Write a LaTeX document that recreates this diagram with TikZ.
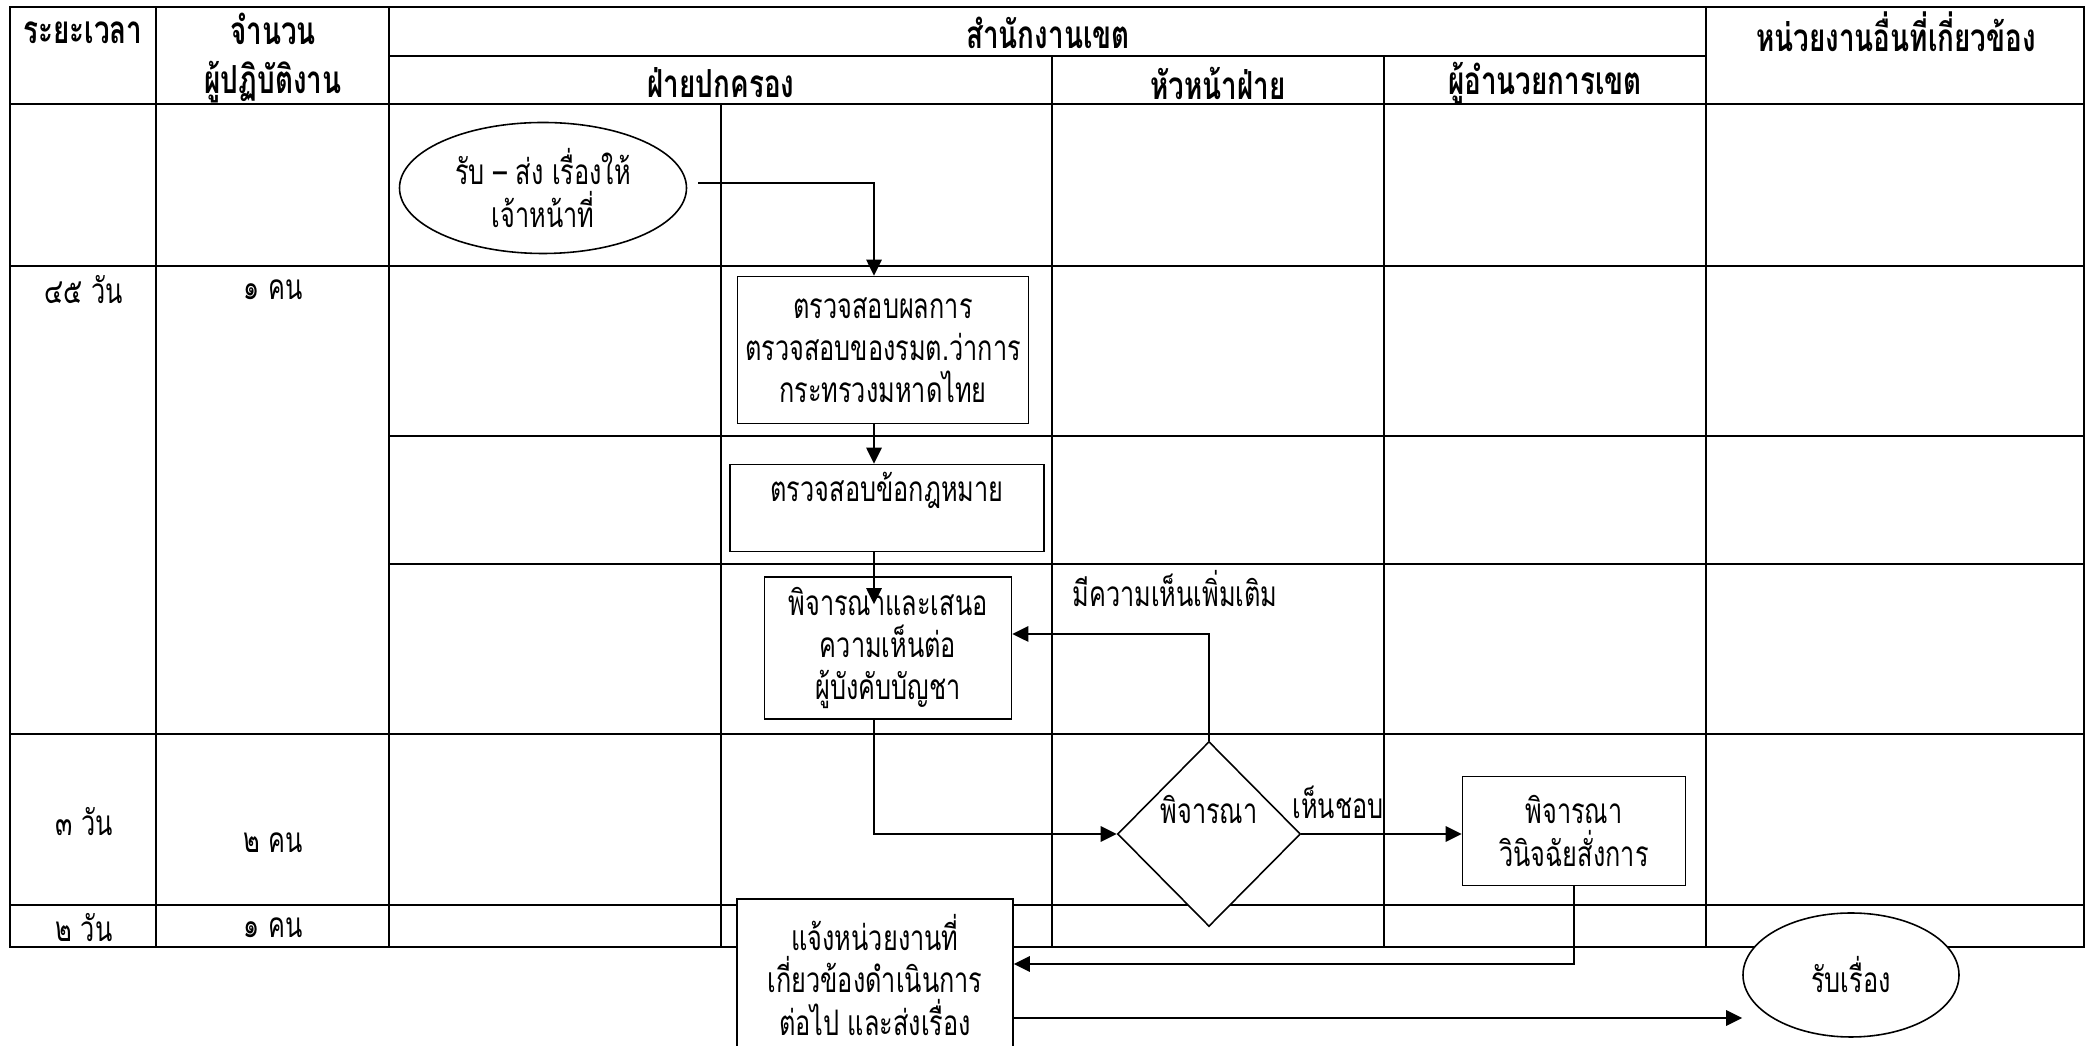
\documentclass[tikz,border=0pt]{standalone}
\usepackage{fontspec}
\setmainfont{Loma}[Script=Thai,FakeStretch=0.72]
\usepackage{tikz}
\usetikzlibrary{arrows.meta,positioning,shapes.geometric,calc}
\lineskiplimit=-20pt

\begin{document}
\begin{tikzpicture}[
  font=\fontsize{10}{12}\selectfont,
  tblline/.style={line width=0.75pt},
  head/.style={font=\fontsize{11}{14}\selectfont\bfseries,align=center},
  cell/.style={align=center},
  procbox/.style={draw,fill=white,line width=0.45pt,align=center,inner sep=2pt},
  termbox/.style={ellipse,draw,fill=white,line width=0.45pt,align=center,inner sep=0pt},
  decbox/.style={diamond,draw,fill=white,line width=0.45pt,inner sep=0pt},
  link/.style={-{Triangle[length=1.6mm,width=1.5mm]},line width=0.8pt}
]
\useasboundingbox (0,0) rectangle (20.89,-10.46);
% table grid
\draw[tblline] (0.10,-0.07) rectangle (20.84,-9.47);
\draw[tblline] (1.56,-0.07) -- (1.56,-9.47)
  (3.89,-0.07) -- (3.89,-9.47)
  (17.06,-0.07) -- (17.06,-9.47)
  (7.21,-1.04) -- (7.21,-9.47)
  (10.52,-0.56) -- (10.52,-9.47)
  (13.84,-0.56) -- (13.84,-9.47);
\draw[tblline] (3.89,-0.56) -- (17.06,-0.56)
  (0.10,-1.04) -- (20.84,-1.04)
  (0.10,-2.66) -- (20.84,-2.66)
  (3.89,-4.36) -- (20.84,-4.36)
  (3.89,-5.64) -- (20.84,-5.64)
  (0.10,-7.34) -- (20.84,-7.34)
  (0.10,-9.05) -- (20.84,-9.05);
\node[head] (hdtime) at (0.83,-0.33) {ระยะเวลา};
\node[head] (hdstaff) at (2.73,-0.58) {จำนวน\\ผู้ปฏิบัติงาน};
\node[head] (hdoffice) at (10.48,-0.33) {สำนักงานเขต};
\node[head] (hdgov) at (7.21,-0.83) {ฝ่ายปกครอง};
\node[head] (hdchief) at (12.18,-0.83) {หัวหน้าฝ่าย};
\node[head] (hddir) at (15.45,-0.83) {ผู้อำนวยการเขต};
\node[head] (hdother) at (18.96,-0.32) {หน่วยงานอื่นที่เกี่ยวข้อง};
\node[cell] (t1) at (0.84,-2.90) {๔๕ วัน};
\node[cell] (n1) at (2.73,-2.90) {๑ คน};
\node[cell] (t2) at (0.84,-8.22) {๓ วัน};
\node[cell] (n2) at (2.73,-8.43) {๒ คน};
\node[cell] (t3) at (0.84,-9.28) {๒ วัน};
\node[cell] (n3) at (2.73,-9.28) {๑ คน};
% flow
\node[termbox,minimum width=2.87cm,minimum height=1.31cm] (recv) at (5.43,-1.88)
  {รับ – ส่ง เรื่องให้\\เจ้าหน้าที่};
\node[procbox,minimum width=2.91cm,minimum height=1.47cm] (chk) at (8.83,-3.50)
  {ตรวจสอบผลการ\\ตรวจสอบของรมต.ว่าการ\\กระทรวงมหาดไทย};
\node[procbox,minimum width=3.14cm,minimum height=0.87cm] (law) at (8.87,-5.08)
  {ตรวจสอบข้อกฎหมาย\\~};
\node[procbox,minimum width=2.47cm,minimum height=1.42cm] (prop) at (8.88,-6.48)
  {พิจารณาและเสนอ\\ความเห็นต่อ\\ผู้บังคับบัญชา};
\node[decbox,minimum width=1.83cm,minimum height=1.85cm,
  text height=0.25cm,text depth=0.45cm] (dec) at (12.09,-8.34) {พิจารณา};
\node[procbox,minimum width=2.23cm,minimum height=1.09cm] (order) at (15.74,-8.31)
  {พิจารณา\\วินิจฉัยสั่งการ};
\node[procbox,minimum width=2.76cm,minimum height=1.52cm] (notify) at (8.75,-9.75)
  {แจ้งหน่วยงานที่\\เกี่ยวข้องดำเนินการ\\ต่อไป และส่งเรื่อง};
\node[termbox,minimum width=2.16cm,minimum height=1.24cm] (take) at (18.51,-9.75) {รับเรื่อง};
\coordinate (sp) at (8.74,0);
\node[anchor=west] (more) at (10.60,-5.89) {มีความเห็นเพิ่มเติม};
\node[anchor=west] (agree) at (12.80,-8.02) {เห็นชอบ};
\draw[link] ([shift={(0.11,0.05)}]recv.east) -| (chk.north -| sp);
\draw[link] (chk.south -| sp) -- (law.north -| sp);
\draw[link] (law.south -| sp) -- ($(prop.north -| sp)+(0,-0.28)$);
\draw[link] (prop.south -| sp) |- (dec.west);
\draw[link] (dec.north) |- ([yshift=0.14cm]prop.east);
\draw[link] (dec.east) -- (dec.east -| order.west);
\draw[link] (order.south) |- ([yshift=0.11cm]notify.east);
\coordinate (snd) at ([yshift=-0.43cm]notify.east);
\draw[link] (snd) -- (snd -| take.west);
\end{tikzpicture}
\end{document}
